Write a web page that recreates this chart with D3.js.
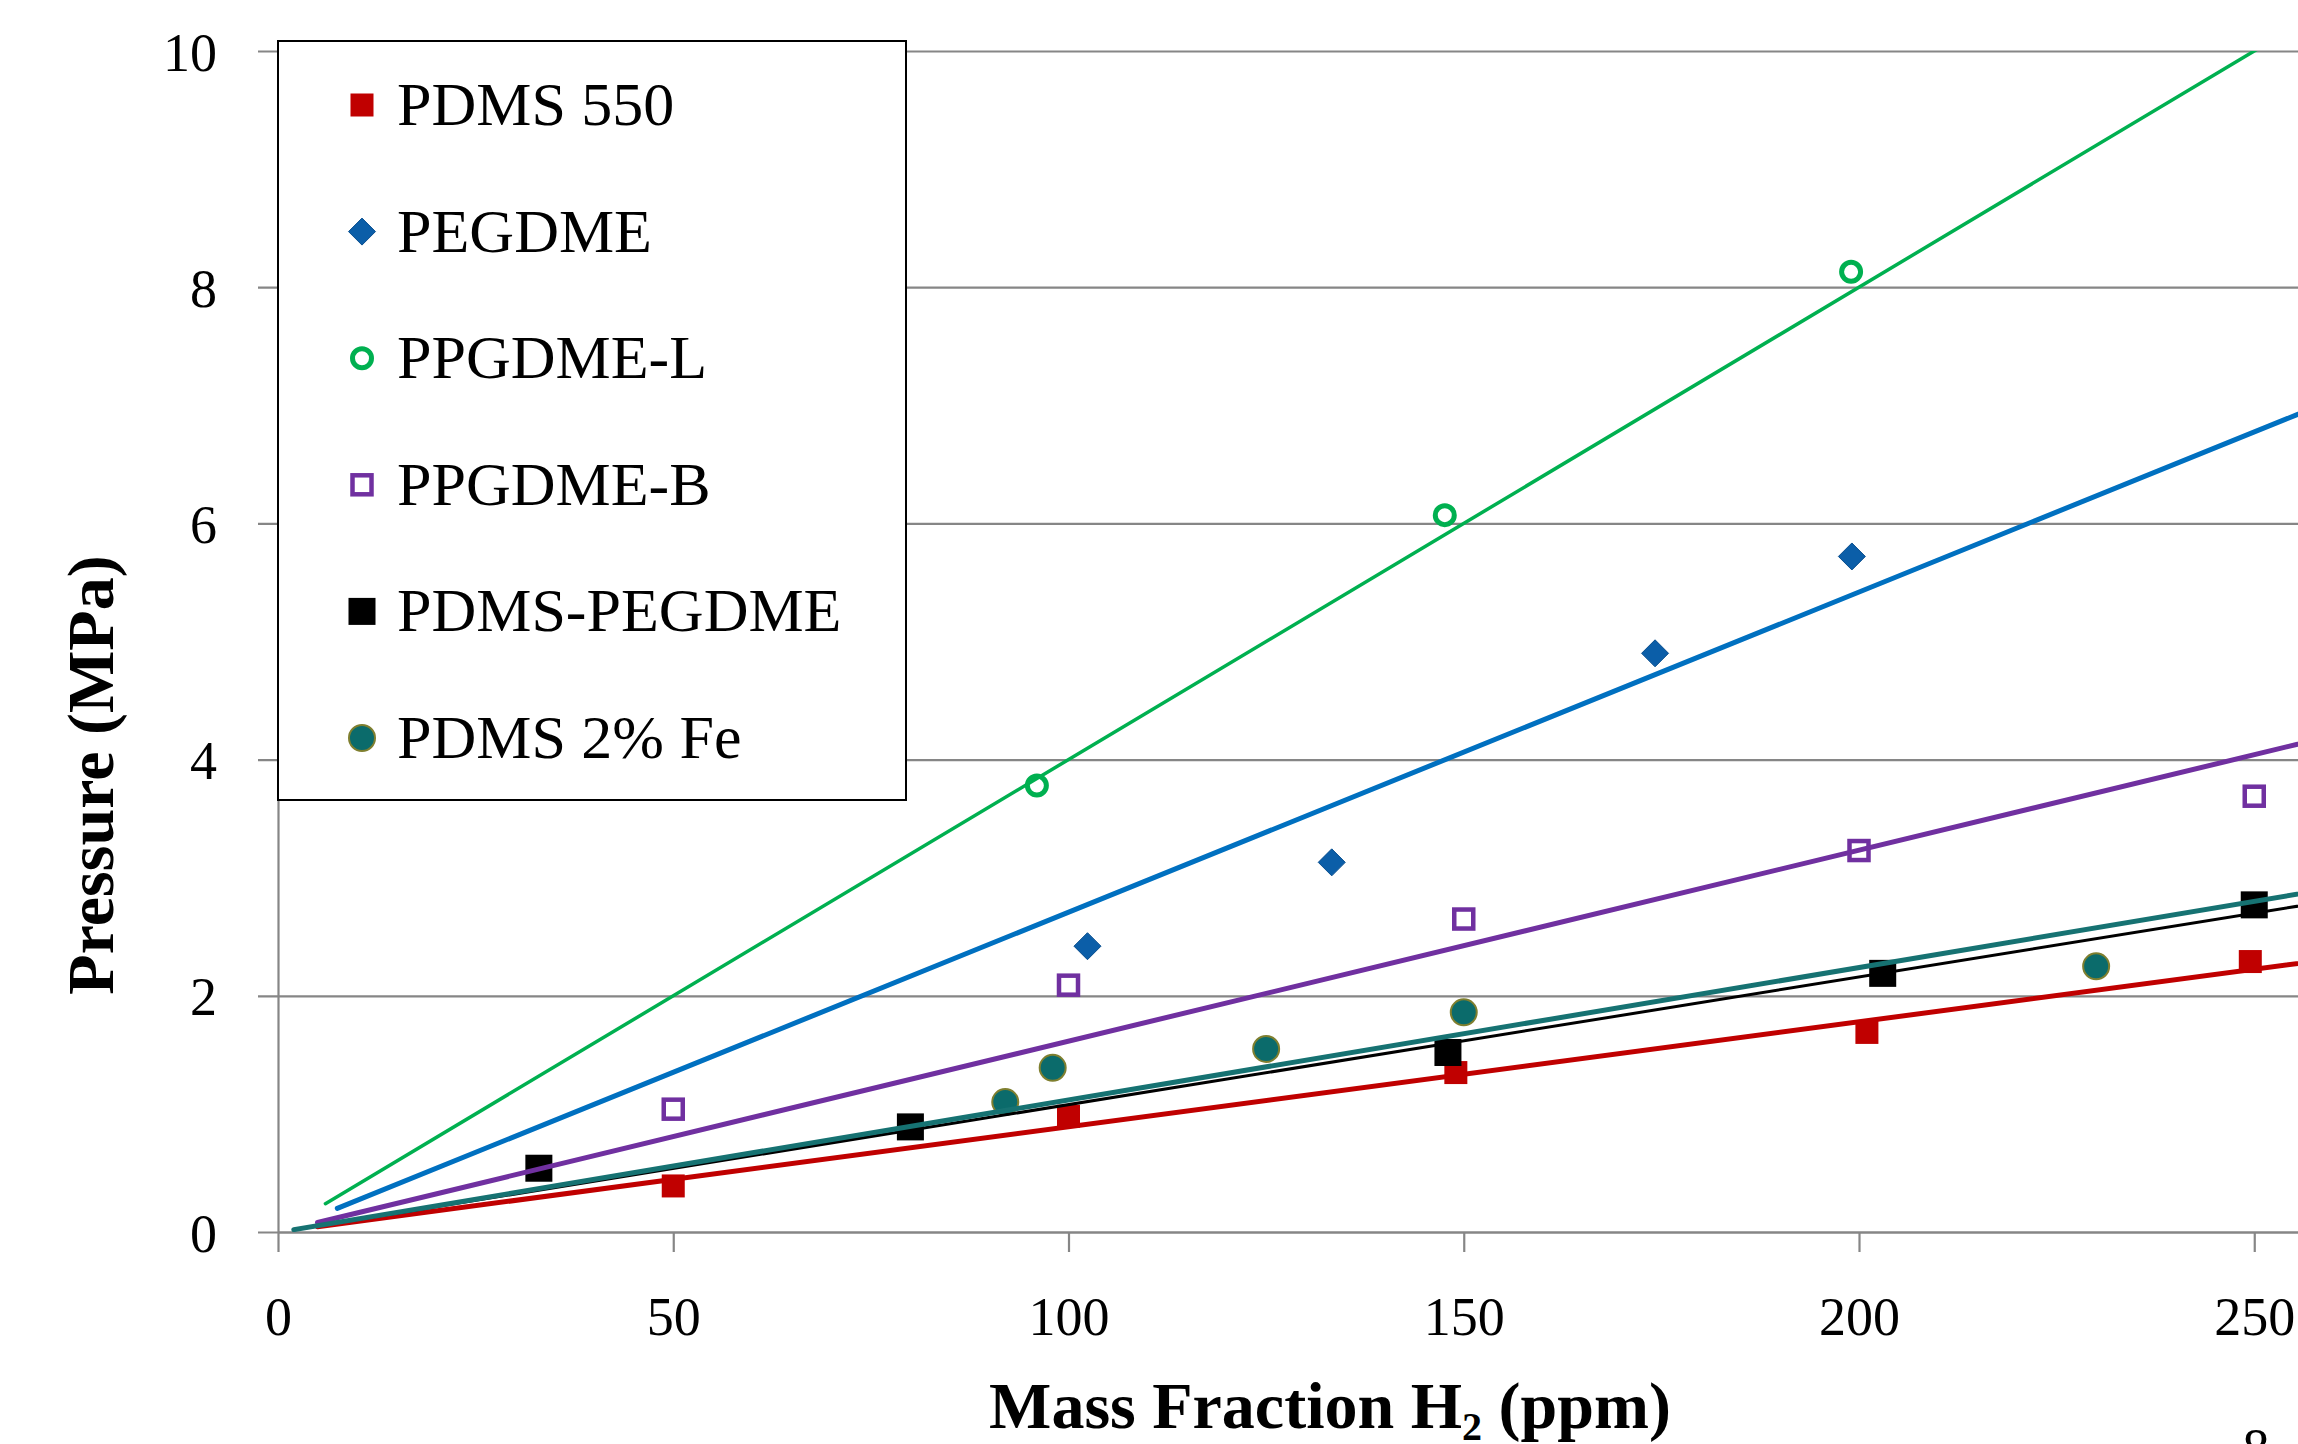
<!DOCTYPE html>
<html>
<head>
<meta charset="utf-8">
<script src="https://cdn.jsdelivr.net/npm/d3@7"></script>
<style>
  body { margin: 0; background: #fff; }
  svg { display: block; font-family: "Liberation Serif", "DejaVu Serif", serif; }
</style>
</head>
<body>
<div id="chart"></div>
<script>
// data
var seriesNames = ["PDMS 550", "PEGDME", "PPGDME-L", "PPGDME-B", "PDMS-PEGDME", "PDMS 2% Fe"];

var pdms550X = [50, 100, 149, 201, 249.5];
var pdms550Y = [0.39, 0.98, 1.35, 1.69, 2.29];

var pegdmeX = [102.4, 133.3, 174.2, 199.1];
var pegdmeY = [2.42, 3.13, 4.90, 5.72];

var ppgdmeLX = [96, 147.6, 199];
var ppgdmeLY = [3.78, 6.07, 8.13];

var ppgdmeBX = [50, 100, 150, 200, 250];
var ppgdmeBY = [1.04, 2.09, 2.65, 3.23, 3.69];

var pdmsPegX = [33, 80, 148, 203, 250];
var pdmsPegY = [0.54, 0.89, 1.52, 2.19, 2.77];

var pdmsFeX = [92, 98, 125, 150, 230];
var pdmsFeY = [1.10, 1.39, 1.55, 1.86, 2.25];

// trendline end points [x, y]
var fitPdms550 = [[5, 0.045], [300, 2.67]];
var fitPegdme = [[7.5, 0.2], [300, 8.13]];
var fitPpgdmeL = [[6, 0.24], [300, 12.0]];
var fitPpgdmeB = [[5, 0.08], [300, 4.85]];
var fitPdmsPeg = [[3, 0.03], [300, 3.24]];
var fitPdmsFe = [[2, 0.02], [300, 3.36]];

var xTicks = [0, 50, 100, 150, 200, 250];
var yTicks = [0, 2, 4, 6, 8, 10];

drawChart();

function drawChart() {
    var W = 2298, H = 1444;
    var left = 278, top = 51, bottom = 1232;
    var pxPerUnit = 7.905;

    var svg = d3.select("#chart").append("svg")
        .attr("width", W).attr("height", H);

    var x = d3.scaleLinear().domain([0, 300]).range([left, left + 300 * pxPerUnit]);
    var y = d3.scaleLinear().domain([0, 10]).range([bottom, top]);

    var grey = "#868686";

    // gridlines + y axis
    var yAxis = svg.append("g")
        .attr("transform", "translate(" + left + ",0)")
        .call(d3.axisLeft(y).tickValues(yTicks).tickSize(-(W - left)).tickSizeOuter(0).tickFormat(d3.format("d")));
    yAxis.select(".domain").attr("stroke", grey).attr("stroke-width", 2.2);
    yAxis.selectAll(".tick line").attr("x1", -20).attr("stroke", grey).attr("stroke-width", 2.2);
    yAxis.selectAll(".tick text")
        .attr("x", -61).attr("dy", null).attr("y", 19)
        .attr("font-size", 54).attr("fill", "#000")
        .attr("font-family", "Liberation Serif, serif");

    // x axis
    var xAxis = svg.append("g")
        .attr("transform", "translate(0," + bottom + ")")
        .call(d3.axisBottom(x).tickValues(xTicks).tickSize(20).tickSizeOuter(0).tickFormat(d3.format("d")));
    xAxis.select(".domain").attr("stroke", grey).attr("stroke-width", 2.2);
    xAxis.selectAll(".tick line").attr("stroke", grey).attr("stroke-width", 2.2);
    xAxis.selectAll(".tick text")
        .attr("y", 103).attr("dy", null)
        .attr("font-size", 54).attr("fill", "#000")
        .attr("font-family", "Liberation Serif, serif");

    // marker styles per series
    var styles = [
        { shape: "square", size: 23, fill: "#c00000", stroke: "none", sw: 0, line: "#c00000", lw: 5 },
        { shape: "diamond", size: 27, fill: "#0b5ea8", stroke: "#0a4f8f", sw: 1, line: "#0070c0", lw: 5 },
        { shape: "circle", size: 19, fill: "none", stroke: "#00b050", sw: 5, line: "#00b050", lw: 3.5 },
        { shape: "square", size: 19, fill: "none", stroke: "#7030a0", sw: 4.5, line: "#7030a0", lw: 5 },
        { shape: "square", size: 27, fill: "#000000", stroke: "none", sw: 0, line: "#000000", lw: 3 },
        { shape: "circle", size: 26, fill: "#0b6b6b", stroke: "#7f7f2f", sw: 2, line: "#167272", lw: 5 }
    ];
    var xs = [pdms550X, pegdmeX, ppgdmeLX, ppgdmeBX, pdmsPegX, pdmsFeX];
    var ys = [pdms550Y, pegdmeY, ppgdmeLY, ppgdmeBY, pdmsPegY, pdmsFeY];
    var fits = [fitPdms550, fitPegdme, fitPpgdmeL, fitPpgdmeB, fitPdmsPeg, fitPdmsFe];

    function marker(g, st) {
        if (st.shape === "square") {
            g.append("rect")
                .attr("x", -st.size / 2).attr("y", -st.size / 2)
                .attr("width", st.size).attr("height", st.size)
                .attr("fill", st.fill).attr("stroke", st.stroke).attr("stroke-width", st.sw);
        } else if (st.shape === "diamond") {
            var s = st.size / 2;
            g.append("path")
                .attr("d", "M0," + (-s) + "L" + s + ",0L0," + s + "L" + (-s) + ",0Z")
                .attr("fill", st.fill).attr("stroke", st.stroke).attr("stroke-width", st.sw);
        } else {
            g.append("circle").attr("r", st.size / 2)
                .attr("fill", st.fill).attr("stroke", st.stroke).attr("stroke-width", st.sw);
        }
    }

    // points
    styles.forEach(function (st, i) {
        var pts = xs[i].map(function (v, j) { return [v, ys[i][j]]; });
        svg.append("g").selectAll("g")
            .data(pts).enter().append("g")
            .attr("transform", function (d) { return "translate(" + x(d[0]) + "," + y(d[1]) + ")"; })
            .each(function () { marker(d3.select(this), st); });
    });

    // trendlines, clipped to plot area
    svg.append("clipPath").attr("id", "plotclip")
        .append("rect").attr("x", left).attr("y", top).attr("width", W - left).attr("height", bottom - top);

    var line = d3.line().x(function (d) { return x(d[0]); }).y(function (d) { return y(d[1]); });
    var lines = svg.append("g").attr("clip-path", "url(#plotclip)");
    styles.forEach(function (st, i) {
        lines.append("path")
            .datum(fits[i])
            .attr("d", line)
            .attr("fill", "none")
            .attr("stroke", st.line)
            .attr("stroke-width", st.lw)
            .attr("stroke-linecap", "round");
    });

    // legend
    var lg = svg.append("g");
    lg.append("rect")
        .attr("x", 278).attr("y", 41).attr("width", 628).attr("height", 759)
        .attr("fill", "#fff").attr("stroke", "#000").attr("stroke-width", 2);
    seriesNames.forEach(function (name, i) {
        var cy = 105 + i * 126.6;
        var g = lg.append("g").attr("transform", "translate(362," + cy + ")");
        marker(g, styles[i]);
        lg.append("text")
            .attr("x", 397).attr("y", cy + 20)
            .attr("font-size", 62)
            .text(name);
    });

    // axis titles
    svg.append("text")
        .attr("transform", "translate(113,775) rotate(-90)")
        .attr("text-anchor", "middle")
        .attr("font-size", 66).attr("font-weight", "bold")
        .text("Pressure (MPa)");

    var xt = svg.append("text")
        .attr("x", 1330).attr("y", 1428)
        .attr("text-anchor", "middle")
        .attr("font-size", 66).attr("font-weight", "bold");
    xt.append("tspan").text("Mass Fraction H");
    xt.append("tspan").attr("font-size", 40).attr("dy", 12).text("2");
    xt.append("tspan").attr("dy", -12).text(" (ppm)");

    // slide page number, cut off at the bottom
    svg.append("text")
        .attr("x", 2256).attr("y", 1466)
        .attr("text-anchor", "middle")
        .attr("font-size", 54)
        .text("8");
}
</script>
</body>
</html>
